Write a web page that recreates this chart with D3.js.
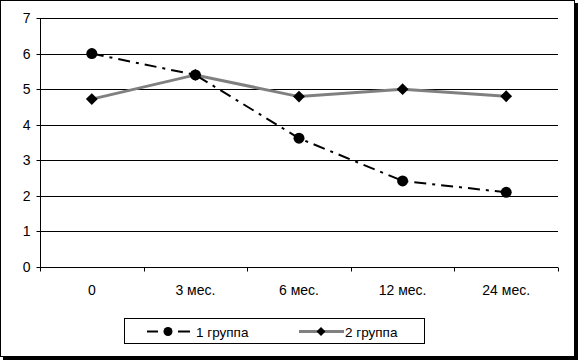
<!DOCTYPE html>
<html><head><meta charset="utf-8">
<script src="https://cdn.jsdelivr.net/npm/d3@7"></script>
<style>html,body{margin:0;padding:0;background:#fff;}svg{display:block;}</style>
</head><body>
<svg id="c" width="578" height="360"></svg>
<script>
const categories = ["0", "3 мес.", "6 мес.", "12 мес.", "24 мес."];
const group1 = [6.0, 5.4, 3.62, 2.42, 2.1];
const group2 = [4.72, 5.4, 4.79, 5.0, 4.8];
const seriesNames = ["1 группа", "2 группа"];
const yTicks = [0, 1, 2, 3, 4, 5, 6, 7];

const svg = d3.select("#c");
const font = "'Liberation Sans', Arial, sans-serif";

// frame with shadow
svg.append("rect").attr("x", 3).attr("y", 3).attr("width", 575).attr("height", 357).attr("fill", "#000");
svg.append("rect").attr("x", 0.5).attr("y", 0.5).attr("width", 574).attr("height", 356)
  .attr("fill", "#fff").attr("stroke", "#000").attr("stroke-width", 1);

const L = 40, R = 558, T = 18, B = 267;
const x = d3.scaleBand().domain(categories).range([L, R]);
const y = d3.scaleLinear().domain([0, 7]).range([B, T]);

// gridlines
svg.append("g").selectAll("line").data(yTicks.filter(d => d > 0)).join("line")
  .attr("x1", L).attr("x2", R)
  .attr("y1", d => Math.round(y(d)) + 0.5).attr("y2", d => Math.round(y(d)) + 0.5)
  .attr("stroke", "#000").attr("stroke-width", 1);

// y axis
const yAxis = d3.axisLeft(y).tickValues(yTicks).tickSize(4).tickPadding(6).tickFormat(d3.format("d"));
const gy = svg.append("g").attr("transform", `translate(${L + 0.5},0)`).call(yAxis);
gy.select(".domain").attr("d", `M-0,${T}V${B}`).attr("stroke", "#000");
gy.selectAll(".tick").attr("transform", d => `translate(0,${Math.round(y(d)) + 0.5})`);
gy.selectAll("text").attr("font-family", font).attr("font-size", 14).attr("fill", "#000").attr("x", -10);

// x axis
const gx = svg.append("g").attr("transform", `translate(0,${Math.round(B) + 0.5})`);
gx.append("line").attr("x1", L).attr("x2", R).attr("stroke", "#000");
const bounds = categories.map((c, i) => x(c) + x.bandwidth()).concat([L]);
gx.selectAll("line.tk").data(bounds).join("line").attr("class", "tk")
  .attr("x1", d => Math.round(d) + 0.5).attr("x2", d => Math.round(d) + 0.5)
  .attr("y1", 0).attr("y2", 4).attr("stroke", "#000");
gx.selectAll("text").data(categories).join("text")
  .attr("x", d => x(d) + x.bandwidth() / 2).attr("y", 27)
  .attr("text-anchor", "middle").attr("font-family", font).attr("font-size", 14).text(d => d);

const cx = d => x(d) + x.bandwidth() / 2;
const line = d3.line().x((d, i) => cx(categories[i])).y(d => y(d));

// series 2 (gray, diamonds)
svg.append("path").datum(group2).attr("d", line).attr("fill", "none")
  .attr("stroke", "#808080").attr("stroke-width", 3);
svg.append("g").selectAll("path").data(group2).join("path")
  .attr("d", d3.symbol().type(d3.symbolSquare).size(70))
  .attr("transform", (d, i) => `translate(${cx(categories[i])},${y(d)}) rotate(45)`)
  .attr("fill", "#000");

// series 1 (black dash-dot, circles)
svg.append("path").datum(group1).attr("d", line).attr("fill", "none")
  .attr("stroke", "#000").attr("stroke-width", 2).attr("stroke-dasharray", "12,6,3,6");
svg.append("g").selectAll("circle").data(group1).join("circle")
  .attr("cx", (d, i) => cx(categories[i])).attr("cy", d => y(d)).attr("r", 5.5).attr("fill", "#000");

// legend
const lg = svg.append("g");
lg.append("rect").attr("x", 124.5).attr("y", 318.5).attr("width", 300).attr("height", 25)
  .attr("fill", "#fff").attr("stroke", "#000");
const ly = 331.5;
lg.append("line").attr("x1", 147).attr("x2", 158).attr("y1", ly).attr("y2", ly).attr("stroke", "#000").attr("stroke-width", 2);
lg.append("line").attr("x1", 178).attr("x2", 190).attr("y1", ly).attr("y2", ly).attr("stroke", "#000").attr("stroke-width", 2);
lg.append("circle").attr("cx", 168).attr("cy", ly).attr("r", 4.5).attr("fill", "#000");
lg.append("text").attr("x", 196).attr("y", ly + 5).attr("font-family", font).attr("font-size", 13.5).text(seriesNames[0]);
lg.append("line").attr("x1", 299).attr("x2", 344).attr("y1", ly).attr("y2", ly).attr("stroke", "#808080").attr("stroke-width", 3);
lg.append("path").attr("d", d3.symbol().type(d3.symbolSquare).size(40))
  .attr("transform", `translate(321,${ly}) rotate(45)`).attr("fill", "#000");
lg.append("text").attr("x", 345).attr("y", ly + 5).attr("font-family", font).attr("font-size", 13.5).text(seriesNames[1]);
</script>
</body></html>
